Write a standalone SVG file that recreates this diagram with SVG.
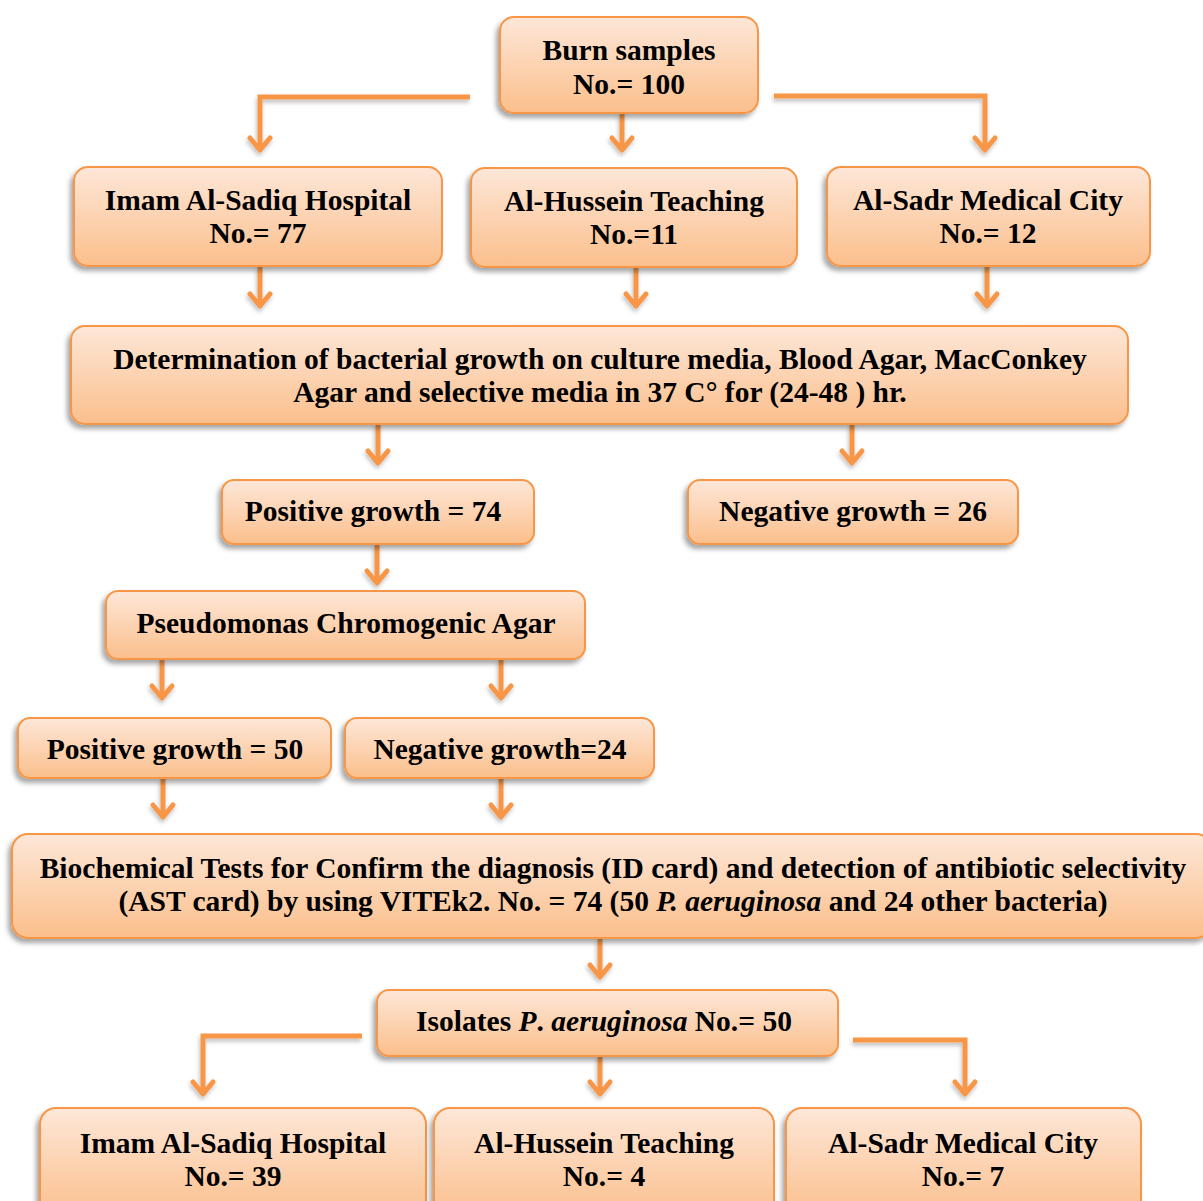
<svg xmlns="http://www.w3.org/2000/svg" width="1203" height="1201" viewBox="0 0 1203 1201">
<defs>
<linearGradient id="g" x1="0" y1="0" x2="0" y2="1">
<stop offset="0" stop-color="#fde7d8"/>
<stop offset="1" stop-color="#fbbf8c"/>
</linearGradient>
<filter id="sh" x="-10%" y="-20%" width="120%" height="150%">
<feDropShadow dx="-3" dy="4" stdDeviation="2.5" flood-color="#000" flood-opacity="0.35"/>
</filter>
<filter id="lsh" x="-20%" y="-20%" width="140%" height="160%">
<feDropShadow dx="-1" dy="3" stdDeviation="2" flood-color="#000" flood-opacity="0.25"/>
</filter>
</defs>
<style>
.box{fill:url(#g);stroke:#f79646;stroke-width:2;filter:url(#sh)}
.t{font-family:"Liberation Serif","Times New Roman",serif;font-weight:bold;font-size:29.5px;fill:#000;text-anchor:middle}
.c{fill:none;stroke:#f79646;stroke-width:5;stroke-linecap:butt;stroke-linejoin:miter}
.h{fill:none;stroke:#f79646;stroke-width:5;stroke-linecap:round;stroke-linejoin:round}
</style>
<g id="connectors" filter="url(#lsh)">
<path class="c" d="M470 97 H260 V150"/>
<path class="h" d="M250 138 L260 150 L270 138"/>
<path class="c" d="M622 113 V150"/>
<path class="h" d="M612 138 L622 150 L632 138"/>
<path class="c" d="M774 96 H985 V150"/>
<path class="h" d="M975 138 L985 150 L995 138"/>
<path class="c" d="M260 266 V306"/>
<path class="h" d="M250 294 L260 306 L270 294"/>
<path class="c" d="M636 267 V306"/>
<path class="h" d="M626 294 L636 306 L646 294"/>
<path class="c" d="M987 266 V306"/>
<path class="h" d="M977 294 L987 306 L997 294"/>
<path class="c" d="M378 424 V463"/>
<path class="h" d="M368 451 L378 463 L388 451"/>
<path class="c" d="M852 424 V463"/>
<path class="h" d="M842 451 L852 463 L862 451"/>
<path class="c" d="M377 544 V583"/>
<path class="h" d="M367 571 L377 583 L387 571"/>
<path class="c" d="M162 659 V698"/>
<path class="h" d="M152 686 L162 698 L172 686"/>
<path class="c" d="M501 659 V698"/>
<path class="h" d="M491 686 L501 698 L511 686"/>
<path class="c" d="M163 778 V817"/>
<path class="h" d="M153 805 L163 817 L173 805"/>
<path class="c" d="M501 778 V817"/>
<path class="h" d="M491 805 L501 817 L511 805"/>
<path class="c" d="M600 938 V977"/>
<path class="h" d="M590 965 L600 977 L610 965"/>
<path class="c" d="M362 1036 H203 V1094"/>
<path class="h" d="M193 1082 L203 1094 L213 1082"/>
<path class="c" d="M600 1056 V1094"/>
<path class="h" d="M590 1082 L600 1094 L610 1082"/>
<path class="c" d="M853 1040 H965 V1094"/>
<path class="h" d="M955 1082 L965 1094 L975 1082"/>
</g>
<g id="n-burn"><rect class="box" x="500" y="17" width="258" height="96" rx="14"/>
<text class="t" x="629" y="60">Burn samples</text><text class="t" x="629" y="94">No.= 100</text></g>
<g id="n-imam1"><rect class="box" x="74" y="167" width="368" height="99" rx="14"/>
<text class="t" x="258" y="210">Imam Al-Sadiq Hospital</text><text class="t" x="258" y="243">No.= 77</text></g>
<g id="n-hussein1"><rect class="box" x="471" y="168" width="326" height="99" rx="14"/>
<text class="t" x="634" y="211">Al-Hussein Teaching</text><text class="t" x="634" y="244">No.=11</text></g>
<g id="n-sadr1"><rect class="box" x="827" y="167" width="323" height="99" rx="14"/>
<text class="t" x="988" y="210">Al-Sadr Medical City</text><text class="t" x="988" y="243">No.= 12</text></g>
<g id="n-determination"><rect class="box" x="71" y="326" width="1057" height="98" rx="14"/>
<text class="t" x="600" y="369">Determination of bacterial growth on culture media, Blood Agar, MacConkey</text>
<text class="t" x="600" y="402">Agar and selective media in 37 C° for (24-48 ) hr.</text></g>
<g id="n-pos74"><rect class="box" x="222" y="480" width="312" height="64" rx="12"/>
<text class="t" x="373" y="521">Positive growth = 74</text></g>
<g id="n-neg26"><rect class="box" x="688" y="480" width="330" height="64" rx="12"/>
<text class="t" x="853" y="521">Negative growth = 26</text></g>
<g id="n-pca"><rect class="box" x="106" y="591" width="479" height="68" rx="12"/>
<text class="t" x="346" y="633">Pseudomonas Chromogenic Agar</text></g>
<g id="n-pos50"><rect class="box" x="18" y="718" width="313" height="60" rx="12"/>
<text class="t" x="175" y="759">Positive growth = 50</text></g>
<g id="n-neg24"><rect class="box" x="345" y="718" width="309" height="60" rx="12"/>
<text class="t" x="500" y="759">Negative growth=24</text></g>
<g id="n-biochem"><rect class="box" x="12" y="834" width="1200" height="104" rx="16"/>
<text class="t" x="613" y="878">Biochemical Tests for Confirm the diagnosis (ID card) and detection of antibiotic selectivity</text>
<text class="t" x="613" y="911">(AST card) by using VITEk2. No. = 74 (50 <tspan font-style="italic">P. aeruginosa</tspan> and 24 other bacteria)</text></g>
<g id="n-isolates"><rect class="box" x="377" y="990" width="461" height="66" rx="12"/>
<text class="t" x="604" y="1031">Isolates <tspan font-style="italic">P</tspan>. <tspan font-style="italic">aeruginosa</tspan> No.= 50</text></g>
<g id="n-imam2"><rect class="box" x="40" y="1108" width="386" height="110" rx="16"/>
<text class="t" x="233" y="1153">Imam Al-Sadiq Hospital</text><text class="t" x="233" y="1186">No.= 39</text></g>
<g id="n-hussein2"><rect class="box" x="434" y="1108" width="340" height="110" rx="16"/>
<text class="t" x="604" y="1153">Al-Hussein Teaching</text><text class="t" x="604" y="1186">No.= 4</text></g>
<g id="n-sadr2"><rect class="box" x="786" y="1108" width="355" height="110" rx="16"/>
<text class="t" x="963" y="1153">Al-Sadr Medical City</text><text class="t" x="963" y="1186">No.= 7</text></g>
</svg>
